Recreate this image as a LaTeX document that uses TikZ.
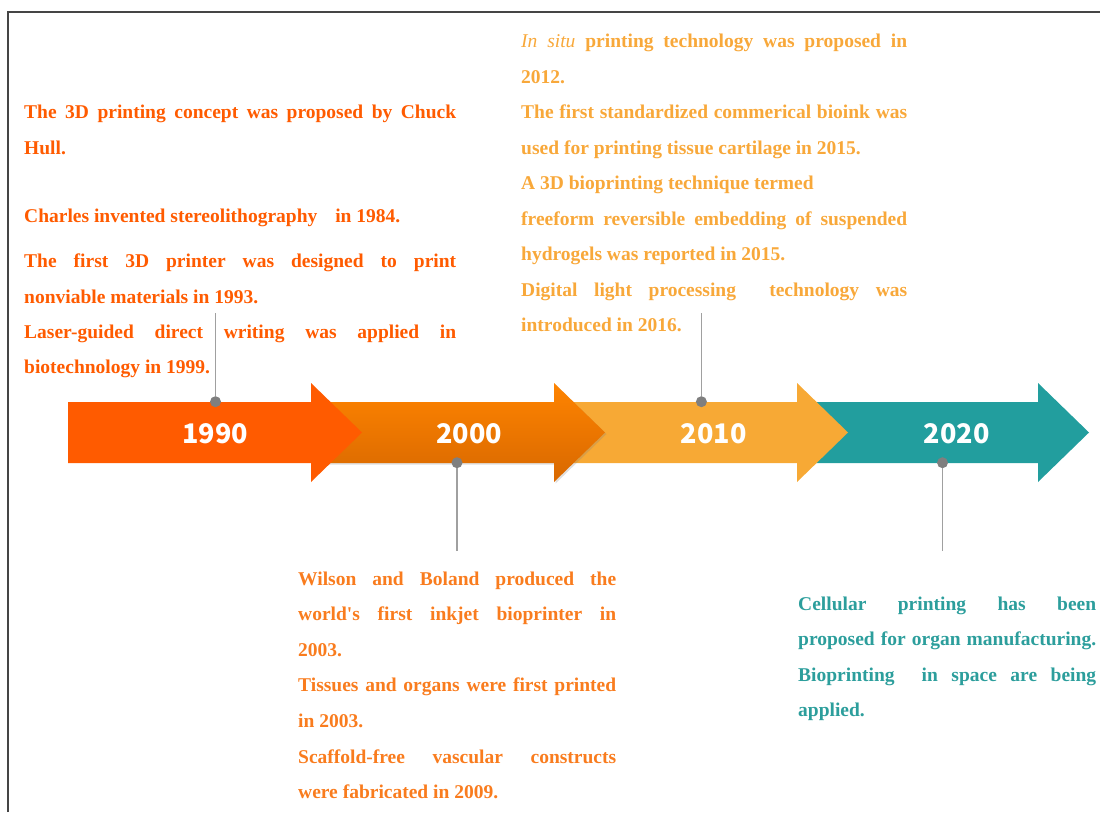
\documentclass[tikz,border=0pt]{standalone}
\usepackage{fontspec}
\setmainfont{Liberation Serif}
\newfontfamily\yearfont{Noto Sans CJK SC}
\usetikzlibrary{shadows}

\definecolor{frameline}{HTML}{454545}
\definecolor{cRed}{HTML}{FF5B00}
\definecolor{cOrTop}{HTML}{FF8400}
\definecolor{cOrBot}{HTML}{D86800}
\definecolor{cOrText}{HTML}{F97C1E}
\definecolor{cAmber}{HTML}{F7A935}
\definecolor{cAmberText}{HTML}{F8A83A}
\definecolor{cTeal}{HTML}{229E9E}
\definecolor{cTealText}{HTML}{2C9E9C}
\definecolor{pinline}{HTML}{A0A0A0}
\definecolor{pindot}{HTML}{7F7F7F}

\newcommand\tlfont{\fontsize{19.5}{23}\selectfont\bfseries}
\newcommand\justline[2]{\makebox[#1][s]{#2}}

\begin{document}
\begin{tikzpicture}[x=1pt,y=-1pt,
  lt/.style={anchor=base west, inner sep=0pt, font=\tlfont},
  year/.style={anchor=base, inner sep=0pt, text=white, font={\fontsize{27}{30}\yearfont\bfseries}},
  pin/.style={draw=pinline, line width=1.5pt},
  dot/.style={circle, fill=pindot, inner sep=0pt, minimum size=11pt},
]
\useasboundingbox (0,0) rectangle (1100,812);

% frame
\draw[frameline, line width=2pt] (8,812) -- (8,12) -- (1100,12);

% timeline arrows (later decades first, so each head lies over the next body)
\fill[cTeal] (797,402) -- (1038,402) -- (1038,383) -- (1089,432.5) -- (1038,482) -- (1038,463) -- (797,463) -- cycle;
\fill[cAmber] (554,402) -- (797,402) -- (797,383) -- (848,432.5) -- (797,482) -- (797,463) -- (554,463) -- cycle;
\path[top color=cOrTop, bottom color=cOrBot,
      drop shadow={shadow xshift=1.5pt, shadow yshift=-1.5pt, opacity=0.25}]
  (311,402) -- (554,402) -- (554,383) -- (605,432.5) -- (554,482) -- (554,463) -- (311,463) -- cycle;
\fill[cRed] (68,402) -- (311,402) -- (311,383) -- (362,432.5) -- (311,482) -- (311,463) -- (68,463) -- cycle;

% decade labels
\node[year] (y1990) at (215.4,443) {1990};
\node[year] (y2000) at (469.3,443) {2000};
\node[year] (y2010) at (713.8,443) {2010};
\node[year] (y2020) at (956.6,443) {2020};

% pins
\coordinate (e1990) at (215.5,313);
\coordinate (e2000) at (457,551);
\coordinate (e2010) at (701.4,313);
\coordinate (e2020) at (942.5,551);
\node[dot] (d1990) at (215.5,401.7) {};
\node[dot] (d2000) at (457,462.7) {};
\node[dot] (d2010) at (701.4,401.7) {};
\node[dot] (d2020) at (942.5,462.7) {};
\draw[pin] (e1990) -- (d1990);
\draw[pin] (e2000) -- (d2000);
\draw[pin] (e2010) -- (d2010);
\draw[pin] (e2020) -- (d2020);

% 1990s milestones
\begin{scope}[every node/.append style={text=cRed}]
\node[lt] (a1) at (24,118) {\justline{432pt}{The 3D printing concept was proposed by Chuck}};
\node[lt] (a2) at (24,154) {Hull.};
\node[lt] (a3) at (24,222) {Charles invented stereolithography\hspace{13pt} in 1984.};
\node[lt] (a4) at (24,267) {\justline{432pt}{The first 3D printer was designed to print}};
\node[lt] (a5) at (24,303) {nonviable materials in 1993.};
\node[lt] (a6) at (24,338) {\justline{432pt}{Laser-guided direct writing was applied in}};
\node[lt] (a7) at (24,373) {biotechnology in 1999.};
\end{scope}

% 2000s milestones
\begin{scope}[every node/.append style={text=cOrText}]
\node[lt] (b1) at (298,585) {\justline{318pt}{Wilson and Boland produced the}};
\node[lt] (b2) at (298,620.6) {\justline{318pt}{world\textquotesingle s first inkjet bioprinter in}};
\node[lt] (b3) at (298,656.2) {2003.};
\node[lt] (b4) at (298,691.8) {\justline{318pt}{Tissues and organs were first printed}};
\node[lt] (b5) at (298,727.4) {in 2003.};
\node[lt] (b6) at (298,763) {\justline{318pt}{Scaffold-free vascular constructs}};
\node[lt] (b7) at (298,798.6) {were fabricated in 2009.};
\end{scope}

% 2010s milestones
\begin{scope}[every node/.append style={text=cAmberText}]
\node[lt] (c1) at (521,47) {\justline{386pt}{{\mdseries\itshape In situ} printing technology was proposed in}};
\node[lt] (c2) at (521,83) {2012.};
\node[lt] (c3) at (521,118.5) {\justline{386pt}{The first standardized commerical bioink was}};
\node[lt] (c4) at (521,154) {used for printing tissue cartilage in 2015.};
\node[lt] (c5) at (521,189.5) {A 3D bioprinting technique termed};
\node[lt] (c6) at (521,225) {\justline{386pt}{freeform reversible embedding of suspended}};
\node[lt] (c7) at (521,260.5) {hydrogels was reported in 2015.};
\node[lt] (c8) at (521,296) {\justline{386pt}{Digital light processing\ \ technology was}};
\node[lt] (c9) at (521,331.5) {introduced in 2016.};
\end{scope}

% 2020s outlook
\begin{scope}[every node/.append style={text=cTealText}]
\node[lt] (d1) at (798,610) {\justline{298pt}{Cellular printing has been}};
\node[lt] (d2) at (798,645.6) {\justline{298pt}{proposed for organ manufacturing.}};
\node[lt] (d3) at (798,681.2) {\justline{298pt}{Bioprinting\ \ in space are being}};
\node[lt] (d4) at (798,716.8) {applied.};
\end{scope}
\end{tikzpicture}
\end{document}
